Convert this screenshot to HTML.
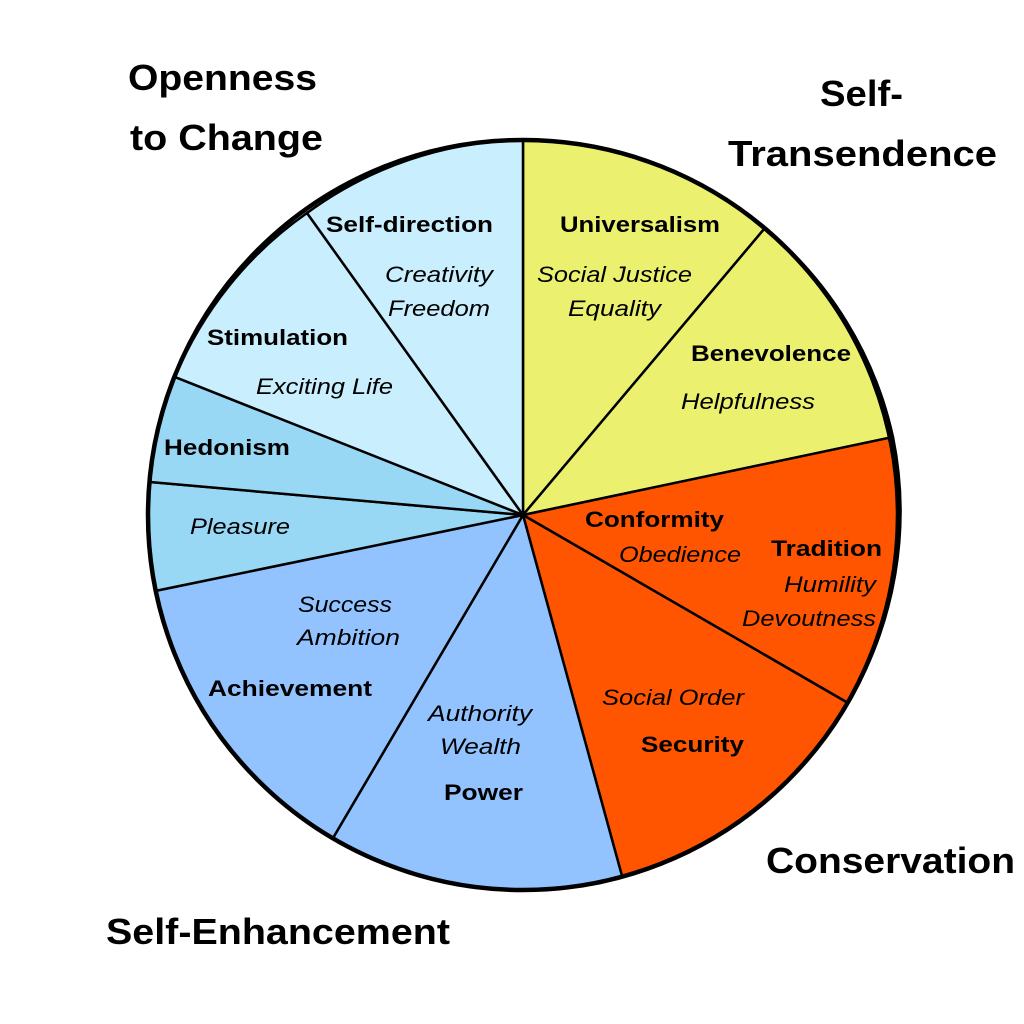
<!DOCTYPE html>
<html><head><meta charset="utf-8"><style>
html,body{margin:0;padding:0;background:#fff;}
svg{display:block;}
text{font-family:"Liberation Sans",sans-serif;fill:#000;}
.t{font-size:36px;font-weight:bold;}
.b{font-size:22px;font-weight:bold;}
.i{font-size:22px;font-style:italic;}
</style></head><body>
<svg width="1024" height="1024" viewBox="0 0 1024 1024" xmlns="http://www.w3.org/2000/svg">
<g stroke="#000" stroke-width="2.5" stroke-linejoin="round">
<path d="M523 515 L523 140 A375 375 0 0 1 765 228 Z" fill="#ebf06e"/>
<path d="M523 515 L765 228 A375 375 0 0 1 893 437 Z" fill="#ebf06e"/>
<path d="M523 515 L893 437 A375 375 0 0 1 848 703 Z" fill="#ff5500"/>
<path d="M523 515 L848 703 A375 375 0 0 1 622 876 Z" fill="#ff5500"/>
<path d="M523 515 L622 876 A375 375 0 0 1 333 838 Z" fill="#93c3ff"/>
<path d="M523 515 L333 838 A375 375 0 0 1 155 591 Z" fill="#93c3ff"/>
<path d="M523 515 L155 591 A375 375 0 0 1 150 482 Z" fill="#98d8f4"/>
<path d="M523 515 L150 482 A375 375 0 0 1 175 377 Z" fill="#98d8f4"/>
<path d="M523 515 L175 377 A375 375 0 0 1 307 213 Z" fill="#c9eefd"/>
<path d="M523 515 L307 213 A375 375 0 0 1 523 140 Z" fill="#c9eefd"/>
</g>
<circle cx="523" cy="515" r="375" fill="none" stroke="#000" stroke-width="4.5"/>

<text class="t" x="128" y="90" textLength="189" lengthAdjust="spacingAndGlyphs">Openness</text>
<text class="t" x="130" y="150" textLength="193" lengthAdjust="spacingAndGlyphs">to Change</text>
<text class="t" x="820" y="106" textLength="83" lengthAdjust="spacingAndGlyphs">Self-</text>
<text class="t" x="728" y="166" textLength="269" lengthAdjust="spacingAndGlyphs">Transendence</text>
<text class="t" x="766" y="873" textLength="249" lengthAdjust="spacingAndGlyphs">Conservation</text>
<text class="t" x="106" y="944" textLength="344" lengthAdjust="spacingAndGlyphs">Self-Enhancement</text>

<text class="b" x="326" y="232" textLength="167" lengthAdjust="spacingAndGlyphs">Self-direction</text>
<text class="i" x="385" y="282" textLength="108" lengthAdjust="spacingAndGlyphs">Creativity</text>
<text class="i" x="388" y="316" textLength="102" lengthAdjust="spacingAndGlyphs">Freedom</text>
<text class="b" x="560" y="232" textLength="160" lengthAdjust="spacingAndGlyphs">Universalism</text>
<text class="i" x="537" y="282" textLength="155" lengthAdjust="spacingAndGlyphs">Social Justice</text>
<text class="i" x="568" y="316" textLength="93" lengthAdjust="spacingAndGlyphs">Equality</text>
<text class="b" x="691" y="361" textLength="160" lengthAdjust="spacingAndGlyphs">Benevolence</text>
<text class="i" x="681" y="409" textLength="134" lengthAdjust="spacingAndGlyphs">Helpfulness</text>
<text class="b" x="207" y="345" textLength="141" lengthAdjust="spacingAndGlyphs">Stimulation</text>
<text class="i" x="256" y="394" textLength="137" lengthAdjust="spacingAndGlyphs">Exciting Life</text>
<text class="b" x="164" y="455" textLength="126" lengthAdjust="spacingAndGlyphs">Hedonism</text>
<text class="i" x="190" y="534" textLength="100" lengthAdjust="spacingAndGlyphs">Pleasure</text>
<text class="b" x="585" y="527" textLength="139" lengthAdjust="spacingAndGlyphs">Conformity</text>
<text class="i" x="619" y="562" textLength="122" lengthAdjust="spacingAndGlyphs">Obedience</text>
<text class="b" x="771" y="556" textLength="111" lengthAdjust="spacingAndGlyphs">Tradition</text>
<text class="i" x="784" y="592" textLength="92" lengthAdjust="spacingAndGlyphs">Humility</text>
<text class="i" x="742" y="626" textLength="134" lengthAdjust="spacingAndGlyphs">Devoutness</text>
<text class="i" x="602" y="705" textLength="142" lengthAdjust="spacingAndGlyphs">Social Order</text>
<text class="b" x="641" y="752" textLength="103" lengthAdjust="spacingAndGlyphs">Security</text>
<text class="i" x="298" y="612" textLength="94" lengthAdjust="spacingAndGlyphs">Success</text>
<text class="i" x="297" y="645" textLength="103" lengthAdjust="spacingAndGlyphs">Ambition</text>
<text class="b" x="208" y="696" textLength="164" lengthAdjust="spacingAndGlyphs">Achievement</text>
<text class="i" x="428" y="721" textLength="104" lengthAdjust="spacingAndGlyphs">Authority</text>
<text class="i" x="440" y="754" textLength="81" lengthAdjust="spacingAndGlyphs">Wealth</text>
<text class="b" x="444" y="800" textLength="79" lengthAdjust="spacingAndGlyphs">Power</text>
</svg>
</body></html>
